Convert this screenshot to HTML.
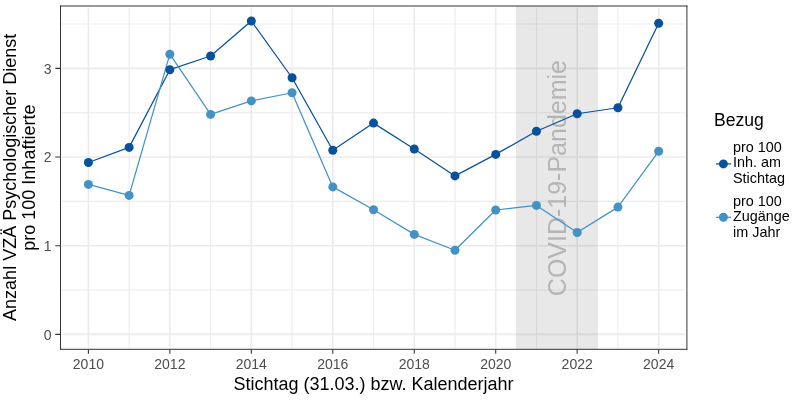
<!DOCTYPE html><html><head><meta charset="utf-8"><style>html,body{margin:0;padding:0;background:#fff;width:800px;height:400px;overflow:hidden}svg{display:block;will-change:transform}text{font-family:"Liberation Sans",sans-serif}</style></head><body>
<svg width="800" height="400" viewBox="0 0 800 400">
<rect x="0" y="0" width="800" height="400" fill="#fff"/>
<path d="M129.13 7.5V347.7M210.60 7.5V347.7M292.06 7.5V347.7M373.52 7.5V347.7M454.99 7.5V347.7M536.45 7.5V347.7M617.92 7.5V347.7M62 290.07H685M62 201.40H685M62 112.73H685M62 24.07H685" stroke="#ebebeb" stroke-width="1.07" fill="none"/>
<path d="M88.40 7.5V347.7M169.86 7.5V347.7M251.33 7.5V347.7M332.79 7.5V347.7M414.26 7.5V347.7M495.72 7.5V347.7M577.18 7.5V347.7M658.65 7.5V347.7M62 334.40H685M62 245.73H685M62 157.07H685M62 68.40H685" stroke="#ebebeb" stroke-width="1.6" fill="none"/>
<rect x="516.0" y="6.0" width="82.0" height="343.3" fill="#5a5a5a" fill-opacity="0.14"/>
<text transform="translate(566.2 178.1) rotate(-90) scale(1 1.055)" text-anchor="middle" font-size="25" fill="#b5b5b5">COVID-19-Pandemie</text>
<polyline points="88.40,162.50 129.13,147.40 169.86,69.70 210.60,56.00 251.33,21.00 292.06,77.75 332.79,150.25 373.52,123.10 414.26,149.00 454.99,175.90 495.72,154.40 536.45,131.25 577.18,113.75 617.92,107.75 658.65,23.30" fill="none" stroke="#08519c" stroke-width="1.25" stroke-linejoin="round"/>
<polyline points="88.40,184.40 129.13,195.40 169.86,54.20 210.60,114.40 251.33,100.90 292.06,92.75 332.79,186.90 373.52,209.75 414.26,234.40 454.99,250.25 495.72,210.00 536.45,205.40 577.18,232.50 617.92,207.10 658.65,151.30" fill="none" stroke="#4292c6" stroke-width="1.25" stroke-linejoin="round"/>
<circle cx="88.40" cy="162.50" r="4.5" fill="#08519c"/>
<circle cx="129.13" cy="147.40" r="4.5" fill="#08519c"/>
<circle cx="169.86" cy="69.70" r="4.5" fill="#08519c"/>
<circle cx="210.60" cy="56.00" r="4.5" fill="#08519c"/>
<circle cx="251.33" cy="21.00" r="4.5" fill="#08519c"/>
<circle cx="292.06" cy="77.75" r="4.5" fill="#08519c"/>
<circle cx="332.79" cy="150.25" r="4.5" fill="#08519c"/>
<circle cx="373.52" cy="123.10" r="4.5" fill="#08519c"/>
<circle cx="414.26" cy="149.00" r="4.5" fill="#08519c"/>
<circle cx="454.99" cy="175.90" r="4.5" fill="#08519c"/>
<circle cx="495.72" cy="154.40" r="4.5" fill="#08519c"/>
<circle cx="536.45" cy="131.25" r="4.5" fill="#08519c"/>
<circle cx="577.18" cy="113.75" r="4.5" fill="#08519c"/>
<circle cx="617.92" cy="107.75" r="4.5" fill="#08519c"/>
<circle cx="658.65" cy="23.30" r="4.5" fill="#08519c"/>
<circle cx="88.40" cy="184.40" r="4.5" fill="#4292c6"/>
<circle cx="129.13" cy="195.40" r="4.5" fill="#4292c6"/>
<circle cx="169.86" cy="54.20" r="4.5" fill="#4292c6"/>
<circle cx="210.60" cy="114.40" r="4.5" fill="#4292c6"/>
<circle cx="251.33" cy="100.90" r="4.5" fill="#4292c6"/>
<circle cx="292.06" cy="92.75" r="4.5" fill="#4292c6"/>
<circle cx="332.79" cy="186.90" r="4.5" fill="#4292c6"/>
<circle cx="373.52" cy="209.75" r="4.5" fill="#4292c6"/>
<circle cx="414.26" cy="234.40" r="4.5" fill="#4292c6"/>
<circle cx="454.99" cy="250.25" r="4.5" fill="#4292c6"/>
<circle cx="495.72" cy="210.00" r="4.5" fill="#4292c6"/>
<circle cx="536.45" cy="205.40" r="4.5" fill="#4292c6"/>
<circle cx="577.18" cy="232.50" r="4.5" fill="#4292c6"/>
<circle cx="617.92" cy="207.10" r="4.5" fill="#4292c6"/>
<circle cx="658.65" cy="151.30" r="4.5" fill="#4292c6"/>
<path d="M60.5 5.5V349.8M686.9 5.5V349.8M60.0 6.0H687.4M60.0 349.3H687.4" fill="none" stroke="#333" stroke-width="1.0"/>
<path d="M88.40 349.3V353.8M169.86 349.3V353.8M251.33 349.3V353.8M332.79 349.3V353.8M414.26 349.3V353.8M495.72 349.3V353.8M577.18 349.3V353.8M658.65 349.3V353.8M55.3 334.40H60.5M55.3 245.73H60.5M55.3 157.07H60.5M55.3 68.40H60.5" stroke="#333" stroke-width="1.07" fill="none"/>
<text x="88.40" y="369" text-anchor="middle" font-size="14" fill="#4d4d4d">2010</text>
<text x="169.86" y="369" text-anchor="middle" font-size="14" fill="#4d4d4d">2012</text>
<text x="251.33" y="369" text-anchor="middle" font-size="14" fill="#4d4d4d">2014</text>
<text x="332.79" y="369" text-anchor="middle" font-size="14" fill="#4d4d4d">2016</text>
<text x="414.26" y="369" text-anchor="middle" font-size="14" fill="#4d4d4d">2018</text>
<text x="495.72" y="369" text-anchor="middle" font-size="14" fill="#4d4d4d">2020</text>
<text x="577.18" y="369" text-anchor="middle" font-size="14" fill="#4d4d4d">2022</text>
<text x="658.65" y="369" text-anchor="middle" font-size="14" fill="#4d4d4d">2024</text>
<text x="51.5" y="339.70" text-anchor="end" font-size="14" fill="#4d4d4d">0</text>
<text x="51.5" y="251.03" text-anchor="end" font-size="14" fill="#4d4d4d">1</text>
<text x="51.5" y="162.37" text-anchor="end" font-size="14" fill="#4d4d4d">2</text>
<text x="51.5" y="73.70" text-anchor="end" font-size="14" fill="#4d4d4d">3</text>
<text x="373.5" y="390" text-anchor="middle" font-size="18" fill="#000">Stichtag (31.03.) bzw. Kalenderjahr</text>
<text transform="translate(16 177.35) rotate(-90)" text-anchor="middle" font-size="18" fill="#000">Anzahl VZÄ Psychologischer Dienst</text>
<text transform="translate(35 177.65) rotate(-90)" text-anchor="middle" font-size="18" fill="#000">pro 100 Inhaftierte</text>
<text x="714" y="126.2" font-size="17.6" fill="#000">Bezug</text>
<text x="733" y="152.20" font-size="14.4" fill="#000">pro 100</text>
<text x="733" y="167.40" font-size="14.4" fill="#000">Inh. am</text>
<text x="733" y="182.60" font-size="14.4" fill="#000">Stichtag</text>
<text x="733" y="206.10" font-size="14.4" fill="#000">pro 100</text>
<text x="733" y="221.30" font-size="14.4" fill="#000">Zugänge</text>
<text x="733" y="236.50" font-size="14.4" fill="#000">im Jahr</text>
<path d="M715.9 163.9H731.1" stroke="#08519c" stroke-width="1.25"/>
<circle cx="723.4" cy="163.9" r="4.5" fill="#08519c"/>
<path d="M715.9 217.3H731.1" stroke="#4292c6" stroke-width="1.25"/>
<circle cx="723.4" cy="217.3" r="4.5" fill="#4292c6"/>
</svg></body></html>
